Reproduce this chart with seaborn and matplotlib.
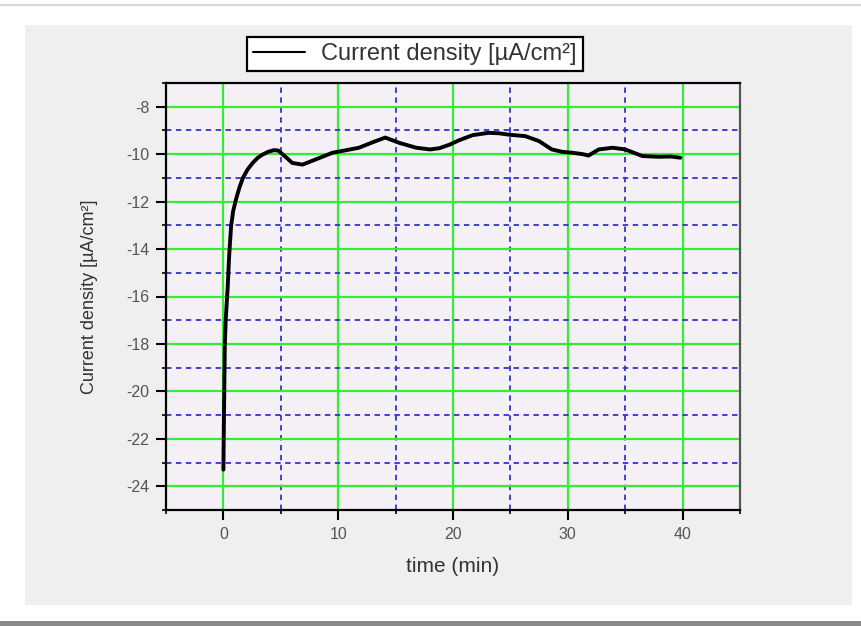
import matplotlib
matplotlib.use("Agg")
import matplotlib.pyplot as plt
import seaborn as sns
from matplotlib.ticker import MultipleLocator
from matplotlib.patches import Rectangle
from matplotlib.lines import Line2D

time_min = [0.0, 0.05, 0.12, 0.2, 0.3, 0.38, 0.5, 0.67, 0.85, 1.1, 1.4, 1.7, 2.1, 2.55,
            3.0, 3.4, 3.9, 4.4, 4.8, 5.0, 5.5, 6.0, 6.9, 8.0, 9.5, 10.5, 11.8, 13.0,
            14.1, 15.3, 16.8, 18.0, 18.8, 19.7, 20.5, 21.7, 23.1, 24.0, 24.9, 26.3,
            27.5, 28.6, 29.5, 30.4, 31.3, 31.8, 32.7, 33.9, 35.0, 35.8, 36.5, 37.9,
            39.0, 39.8]
current_density = [-23.3, -21.0, -18.1, -17.0, -16.2, -15.55, -14.3, -13.03, -12.4, -11.9,
                   -11.4, -11.0, -10.65, -10.37, -10.15, -10.02, -9.9, -9.83, -9.85, -9.94,
                   -10.15, -10.37, -10.44, -10.23, -9.94, -9.85, -9.73, -9.5, -9.3, -9.52,
                   -9.73, -9.8, -9.75, -9.6, -9.42, -9.2, -9.1, -9.12, -9.18, -9.24, -9.45,
                   -9.8, -9.9, -9.94, -10.0, -10.06, -9.8, -9.73, -9.8, -9.95, -10.08,
                   -10.11, -10.1, -10.15]

legend_label = "Current density [µA/cm²]"
x_label = "time (min)"
y_label = "Current density [µA/cm²]"

sns.set_style("white")
plt.rcParams['font.family'] = ['Liberation Sans', 'DejaVu Sans']
plt.rcParams['axes.unicode_minus'] = False

fig = plt.figure(figsize=(8.61, 6.26), dpi=100)
fig.patch.set_facecolor("white")

# outer gray panel
fig.patches.append(Rectangle((25/861, 1-605/626), (852-25)/861, (605-25)/626,
                             transform=fig.transFigure, facecolor="#efefef",
                             edgecolor="none", zorder=-10))
fig.lines.append(Line2D([0, 1], [1-5/626, 1-5/626], transform=fig.transFigure,
                        color="#d8d8d8", lw=1.5, zorder=-10))
fig.patches.append(Rectangle((0, 0), 1, 5/626, transform=fig.transFigure,
                             facecolor="#8a8a8a", edgecolor="none", zorder=-10))

ax = fig.add_axes([166/861, 1-510/626, (740-166)/861, (510-83)/626])
ax.set_facecolor("#f4f0f6")

sns.lineplot(x=time_min, y=current_density, ax=ax, color="black", lw=2.8,
             sort=False, label=legend_label, zorder=5)

ax.set_xlim(-5, 45)
ax.set_ylim(-25, -7)
ax.xaxis.set_major_locator(MultipleLocator(10))
ax.xaxis.set_minor_locator(MultipleLocator(5))
ax.yaxis.set_major_locator(MultipleLocator(2))
ax.yaxis.set_minor_locator(MultipleLocator(1))

ax.grid(which="major", color="#33ee33", lw=1.6, ls="-", zorder=1)
ax.grid(which="minor", color="#3333cc", lw=1.3, ls=(0, (3, 2.5)), zorder=1)
ax.set_axisbelow(True)

for s in ax.spines.values():
    s.set_visible(True)
    s.set_color("black")
    s.set_linewidth(1.6)
ax.spines["right"].set_color("#555555")

ax.tick_params(which="major", direction="out", length=7, width=1.5, color="black",
               labelsize=11.5, labelcolor="#555555", left=True, bottom=True, pad=5)
ax.tick_params(which="minor", direction="out", length=3, width=1.2, color="black",
               left=True, bottom=True)

ax.set_xlabel(x_label, fontsize=15, color="#333333", labelpad=11)
ax.set_ylabel(y_label, fontsize=13, color="#333333", labelpad=20)

ax.get_legend().remove()
handles, labels = ax.get_legend_handles_labels()
leg = fig.legend(handles, labels, loc="upper left",
                 bbox_to_anchor=(247/861, 1-37/626), fontsize=17,
                 frameon=True, fancybox=False, handlelength=2.2,
                 borderpad=0.25, borderaxespad=0, handletextpad=0.7)
leg.get_frame().set_edgecolor("black")
leg.get_frame().set_linewidth(1.6)
leg.get_frame().set_facecolor("white")
leg.get_frame().set_alpha(1)
for l in leg.get_lines():
    l.set_linewidth(1.5)
for t in leg.get_texts():
    t.set_color("#333333")

fig.savefig("out.png", dpi=100, facecolor=fig.get_facecolor())
